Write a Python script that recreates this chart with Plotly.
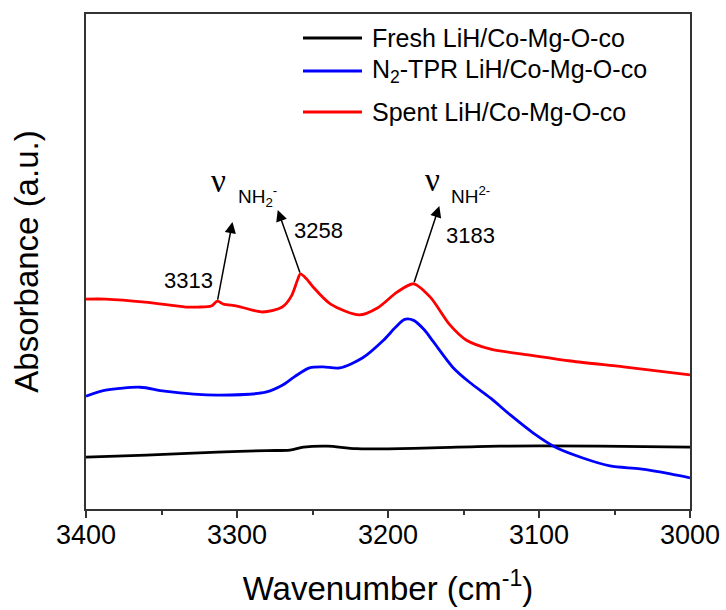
import plotly.graph_objects as go

# FTIR spectra in the N-H stretching region (wavenumber in cm^-1, absorbance in a.u.)
fresh_wn = [3400, 3360, 3313, 3280, 3265, 3256, 3240, 3221, 3177, 3126, 3060, 3000]
fresh_abs = [0.105, 0.109, 0.115, 0.118, 0.119, 0.125, 0.127, 0.122, 0.123, 0.127, 0.127, 0.125]

tpr_wn = [3400, 3387, 3364, 3348, 3313, 3281, 3270, 3262, 3252, 3243, 3232, 3217, 3203,
          3195, 3189, 3183, 3176, 3170, 3157, 3146, 3132, 3119, 3104, 3088, 3071, 3053, 3033, 3013, 3000]
tpr_abs = [0.228, 0.240, 0.246, 0.238, 0.230, 0.236, 0.250, 0.267, 0.285, 0.287, 0.285, 0.305, 0.341,
           0.367, 0.383, 0.381, 0.362, 0.338, 0.286, 0.256, 0.224, 0.190, 0.154, 0.123, 0.103, 0.087, 0.081, 0.071, 0.063]

spent_wn = [3400, 3387, 3361, 3334, 3326, 3317, 3313, 3309, 3300, 3283, 3270, 3264, 3260, 3258,
            3254, 3250, 3238, 3219, 3207, 3194, 3183, 3172, 3159, 3148, 3132, 3106, 3079, 3044, 3000]
spent_abs = [0.424, 0.424, 0.418, 0.408, 0.408, 0.410, 0.420, 0.414, 0.410, 0.398, 0.408, 0.430, 0.462, 0.475,
             0.465, 0.450, 0.414, 0.392, 0.406, 0.438, 0.455, 0.428, 0.372, 0.341, 0.323, 0.311, 0.299, 0.287, 0.271]

series_names = ["Fresh LiH/Co-Mg-O-co", "N<sub>2</sub>-TPR LiH/Co-Mg-O-co", "Spent LiH/Co-Mg-O-co"]
series_colors = ["#000000", "#0000ff", "#ff0000"]

# labelled peaks on the spent-catalyst spectrum
peak_wn = [3313, 3258, 3183]
peak_abs = [0.420, 0.475, 0.455]
peak_labels = ["3313", "3258", "3183"]
x_ticks = [3400, 3300, 3200, 3100, 3000]

W, H = 726, 610
L, R, T, B = 86, 36, 14, 101
PW, PH = W - L - R, H - T - B


def px(xp):
    return (xp - L) / PW


def py(yp):
    return (H - B - yp) / PH


fig = go.Figure()
for wn, ab, col in zip([fresh_wn, tpr_wn, spent_wn], [fresh_abs, tpr_abs, spent_abs], series_colors):
    fig.add_trace(go.Scatter(x=wn, y=ab, mode="lines",
                             line=dict(color=col, width=2.8, shape="spline", smoothing=0.8),
                             showlegend=False, hoverinfo="skip"))

axis_col = "#333333"
fig.update_xaxes(range=[3400, 3000], tickvals=x_ticks, ticktext=[str(v) for v in x_ticks],
                 ticks="outside", ticklen=7, tickwidth=1.5, tickcolor=axis_col,
                 minor=dict(dtick=50, tick0=3000, ticks="outside", ticklen=4, tickwidth=1.5, tickcolor=axis_col),
                 showline=True, linecolor=axis_col, linewidth=1.5, mirror=True,
                 showgrid=False, zeroline=False, ticklabelstandoff=-6,
                 tickfont=dict(family="Arial, Liberation Sans", size=27, color="#000"),
                 title=dict(text="Wavenumber (cm<sup>-1</sup>)", standoff=28,
                            font=dict(family="Arial, Liberation Sans", size=33, color="#000")))
fig.update_yaxes(range=[0, 1], showticklabels=False, ticks="",
                 showline=True, linecolor=axis_col, linewidth=1.5, mirror=True,
                 showgrid=False, zeroline=False,
                 title=dict(text="Absorbance (a.u.)", standoff=36,
                            font=dict(family="Arial, Liberation Sans", size=33, color="#000")))

annotations = []
# arrows from the peaks to the band assignments
arrow_tips = [(3303, 0.580), (3273, 0.604), (3166, 0.612)]
for (wx, ay), (tx, ty) in zip(zip(peak_wn, peak_abs), arrow_tips):
    annotations.append(dict(x=tx, y=ty, ax=wx, ay=ay, xref="x", yref="y", axref="x", ayref="y",
                            text="", showarrow=True, arrowhead=2, arrowsize=1.5, arrowwidth=1.5,
                            arrowcolor="#000"))

num_font = dict(family="Arial, Liberation Sans", size=22, color="#000")
label_pos = [(188, 280), (318, 230), (470, 235)]
for txt, (lx, ly) in zip(peak_labels, label_pos):
    annotations.append(dict(x=px(lx), y=py(ly), xref="paper", yref="paper", text=txt,
                            showarrow=False, font=num_font, xanchor="center", yanchor="middle"))

nu_font = dict(family="Liberation Serif, Times New Roman", size=33, color="#000")
for nx, ny in [(218, 181), (432, 180)]:
    annotations.append(dict(x=px(nx), y=py(ny), xref="paper", yref="paper", text="ν",
                            showarrow=False, font=nu_font, xanchor="center", yanchor="middle"))
sub_font = dict(family="Arial, Liberation Sans", size=19, color="#000")
annotations.append(dict(x=px(236), y=py(196), xref="paper", yref="paper",
                        text="NH<sub>2</sub><sup>-</sup>", showarrow=False, font=sub_font,
                        xanchor="left", yanchor="middle"))
annotations.append(dict(x=px(449), y=py(195), xref="paper", yref="paper",
                        text="NH<sup>2-</sup>", showarrow=False, font=sub_font,
                        xanchor="left", yanchor="middle"))

# legend drawn as line samples with labels
shapes = []
leg_font = dict(family="Arial, Liberation Sans", size=25, color="#000")
for name, col, ly in zip(series_names, series_colors, [38, 71, 112]):
    shapes.append(dict(type="line", xref="paper", yref="paper", x0=px(303), x1=px(362),
                       y0=py(ly), y1=py(ly), line=dict(color=col, width=2.8)))
    annotations.append(dict(x=px(370), y=py(ly), xref="paper", yref="paper", text=name,
                            showarrow=False, font=leg_font, xanchor="left", yanchor="middle"))

fig.update_layout(width=W, height=H, margin=dict(l=L, r=R, t=T, b=B, autoexpand=False),
                  paper_bgcolor="white", plot_bgcolor="white",
                  annotations=annotations, shapes=shapes, showlegend=False)

fig.write_html("out.html")
